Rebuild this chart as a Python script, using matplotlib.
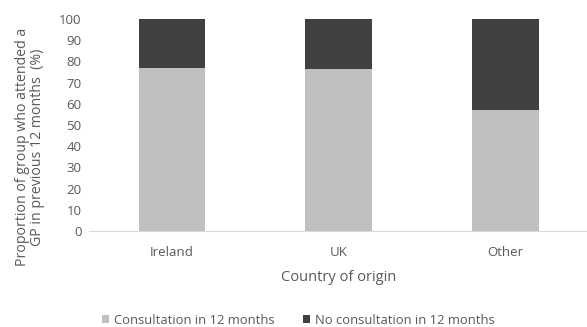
import matplotlib.pyplot as plt
import numpy as np

# data
countries = ['Ireland', 'UK', 'Other']
consulted = [77.0, 76.3, 57.1]
not_consulted = [100 - v for v in consulted]

plt.rcParams['font.family'] = ['Open Sans', 'DejaVu Sans']
text_col = '#595959'

fig = plt.figure(figsize=(5.87, 3.27), dpi=100)
ax = fig.add_axes([88.5 / 587, 96 / 327, 500.5 / 587, 212 / 327])

x = np.arange(len(countries))
ax.bar(x, consulted, width=0.4, color='#bfbfbf', label='Consultation in 12 months')
ax.bar(x, not_consulted, width=0.4, bottom=consulted, color='#404040',
       label='No consultation in 12 months')

ax.set_xlim(-0.5, 2.5)
ax.set_ylim(0, 100)
ax.set_yticks(np.arange(0, 101, 10))
ax.set_xticks(x)
ax.set_xticklabels(countries)
ax.tick_params(axis='both', length=0, labelsize=9.5, colors=text_col)
ax.tick_params(axis='x', pad=11)
ax.tick_params(axis='y', pad=5)

for s in ['top', 'right', 'left']:
    ax.spines[s].set_visible(False)
ax.spines['bottom'].set_color('#d9d9d9')

ax.set_xlabel('Country of origin', fontsize=10.5, color=text_col, labelpad=8)
ax.set_ylabel('Proportion of group who attended a\nGP in previous 12 months  (%)',
              fontsize=10.2, color=text_col, linespacing=1.0)
ax.yaxis.set_label_coords(-0.087, 0.396)

leg = fig.legend(loc='lower center', bbox_to_anchor=(0.508, -0.035), ncol=2,
                 frameon=False, fontsize=9.4, handlelength=0.55, handleheight=0.55,
                 handletextpad=0.35, columnspacing=2.2)
for t in leg.get_texts():
    t.set_color(text_col)

fig.savefig('out.png', dpi=100)
